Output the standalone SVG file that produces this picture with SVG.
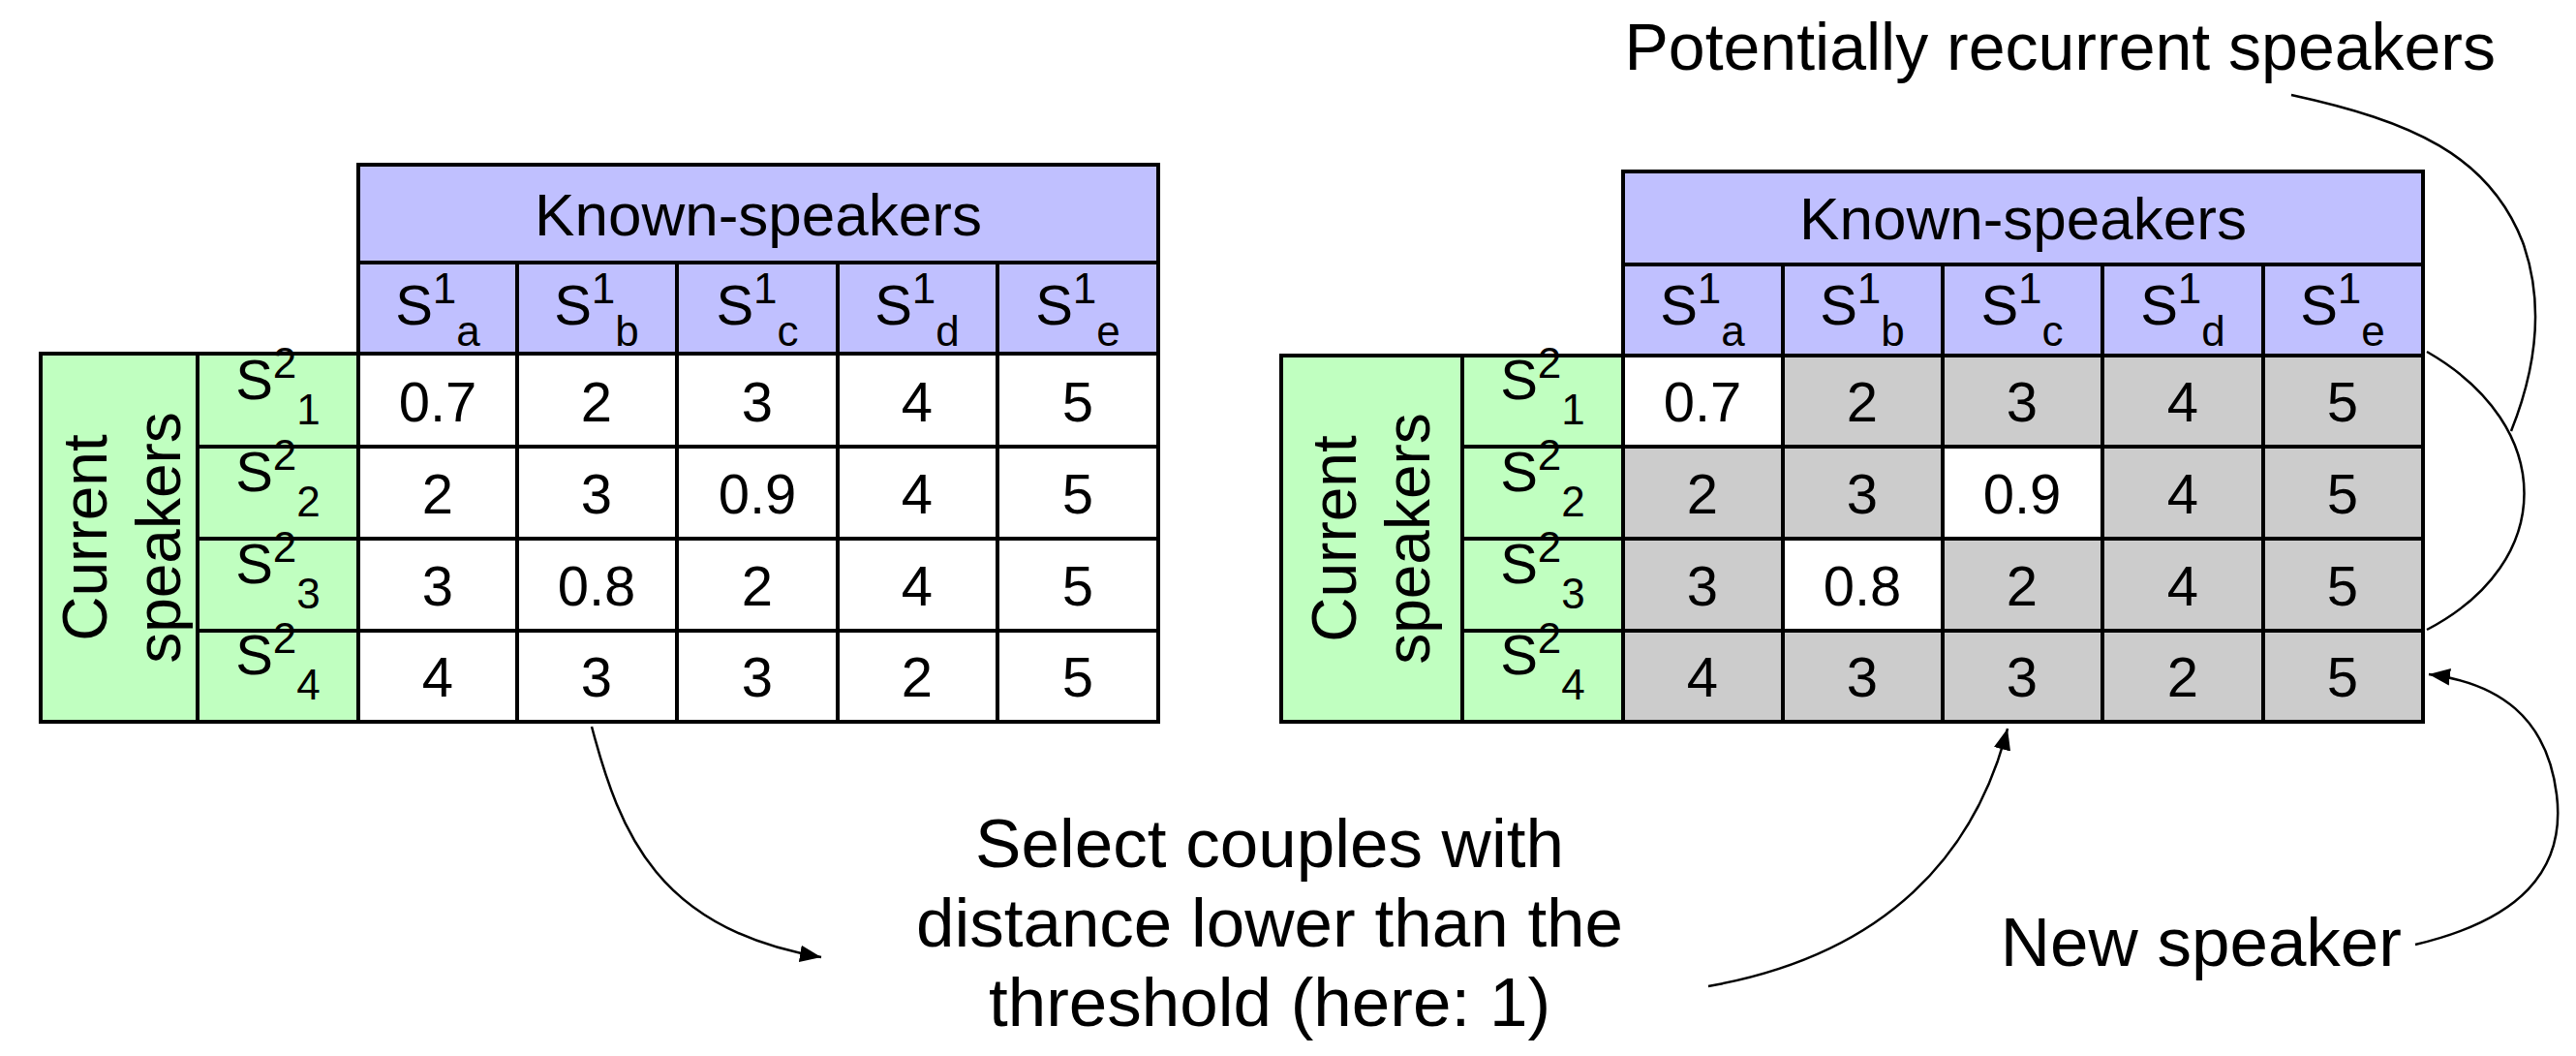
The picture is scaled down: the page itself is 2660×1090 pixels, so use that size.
<svg xmlns="http://www.w3.org/2000/svg" width="2660" height="1090" viewBox="0 0 2660 1090">
<style>
text{font-family:"Liberation Sans",Arial,sans-serif;fill:#000}
.t{font-size:58px;text-anchor:middle}
.h{font-size:62px;text-anchor:middle}
.l{font-size:64px}
.b{font-size:71px}
.s{font-size:44px}
.p{fill:#c0c0ff;stroke:#000;stroke-width:4}
.g{fill:#c0ffc0;stroke:#000;stroke-width:4}
.w{fill:#fff;stroke:#000;stroke-width:4}
.k{fill:#ccc;stroke:#000;stroke-width:4}
.c{fill:none;stroke:#000;stroke-width:2.5}
</style>
<defs>
<marker id="ar" viewBox="0 0 10 10" refX="10" refY="5" markerWidth="22" markerHeight="22" orient="auto" markerUnits="userSpaceOnUse"><path d="M0,1L10,5L0,9z"/></marker></defs>

<g id="left-table">
<rect class="p" x="370" y="170" width="826" height="101"/>
<text class="h" x="783" y="243">Known-speakers</text>
<rect class="p" x="370" y="271" width="164" height="94"/><rect class="p" x="534" y="271" width="165" height="94"/><rect class="p" x="699" y="271" width="166" height="94"/><rect class="p" x="865" y="271" width="165" height="94"/><rect class="p" x="1030" y="271" width="166" height="94"/>
<text class="t" x="452" y="335">S<tspan class="s" dy="-22">1</tspan><tspan class="s" dy="44">a</tspan></text>
<text class="t" x="616" y="335">S<tspan class="s" dy="-22">1</tspan><tspan class="s" dy="44">b</tspan></text>
<text class="t" x="782" y="335">S<tspan class="s" dy="-22">1</tspan><tspan class="s" dy="44">c</tspan></text>
<text class="t" x="947" y="335">S<tspan class="s" dy="-22">1</tspan><tspan class="s" dy="44">d</tspan></text>
<text class="t" x="1113" y="335">S<tspan class="s" dy="-22">1</tspan><tspan class="s" dy="44">e</tspan></text>
<rect class="g" x="42" y="365" width="162" height="380"/>
<text class="l" text-anchor="middle" transform="translate(110,555) rotate(-90)">Current</text>
<text class="l" text-anchor="middle" transform="translate(186,555) rotate(-90)">speakers</text>
<rect class="g" x="204" y="365" width="166" height="96"/><rect class="g" x="204" y="461" width="166" height="95"/><rect class="g" x="204" y="556" width="166" height="95"/><rect class="g" x="204" y="651" width="166" height="94"/>
<text class="t" x="287" y="412">S<tspan class="s" dy="-22">2</tspan><tspan class="s" dy="48">1</tspan></text>
<text class="t" x="287" y="507">S<tspan class="s" dy="-22">2</tspan><tspan class="s" dy="48">2</tspan></text>
<text class="t" x="287" y="602">S<tspan class="s" dy="-22">2</tspan><tspan class="s" dy="48">3</tspan></text>
<text class="t" x="287" y="696">S<tspan class="s" dy="-22">2</tspan><tspan class="s" dy="48">4</tspan></text>
<g>
<rect class="w" x="370" y="365" width="826" height="380"/>
<path d="M534 365V745M699 365V745M865 365V745M1030 365V745M370 461H1196M370 556H1196M370 651H1196" stroke="#000" stroke-width="4"/>
</g>
<text class="t" x="452" y="435">0.7</text><text class="t" x="616" y="435">2</text><text class="t" x="782" y="435">3</text><text class="t" x="947" y="435">4</text><text class="t" x="1113" y="435">5</text>
<text class="t" x="452" y="530">2</text><text class="t" x="616" y="530">3</text><text class="t" x="782" y="530">0.9</text><text class="t" x="947" y="530">4</text><text class="t" x="1113" y="530">5</text>
<text class="t" x="452" y="625">3</text><text class="t" x="616" y="625">0.8</text><text class="t" x="782" y="625">2</text><text class="t" x="947" y="625">4</text><text class="t" x="1113" y="625">5</text>
<text class="t" x="452" y="719">4</text><text class="t" x="616" y="719">3</text><text class="t" x="782" y="719">3</text><text class="t" x="947" y="719">2</text><text class="t" x="1113" y="719">5</text>
</g>

<g id="right-table">
<rect class="p" x="1676" y="177" width="826" height="96"/>
<text class="h" x="2089" y="247">Known-speakers</text>
<rect class="p" x="1676" y="273" width="165" height="94"/><rect class="p" x="1841" y="273" width="165" height="94"/><rect class="p" x="2006" y="273" width="165" height="94"/><rect class="p" x="2171" y="273" width="166" height="94"/><rect class="p" x="2337" y="273" width="165" height="94"/>
<text class="t" x="1758" y="335">S<tspan class="s" dy="-22">1</tspan><tspan class="s" dy="44">a</tspan></text>
<text class="t" x="1923" y="335">S<tspan class="s" dy="-22">1</tspan><tspan class="s" dy="44">b</tspan></text>
<text class="t" x="2088" y="335">S<tspan class="s" dy="-22">1</tspan><tspan class="s" dy="44">c</tspan></text>
<text class="t" x="2254" y="335">S<tspan class="s" dy="-22">1</tspan><tspan class="s" dy="44">d</tspan></text>
<text class="t" x="2419" y="335">S<tspan class="s" dy="-22">1</tspan><tspan class="s" dy="44">e</tspan></text>
<rect class="g" x="1323" y="367" width="187" height="378"/>
<text class="l" text-anchor="middle" transform="translate(1400,556) rotate(-90)">Current</text>
<text class="l" text-anchor="middle" transform="translate(1476,556) rotate(-90)">speakers</text>
<rect class="g" x="1510" y="367" width="166" height="94"/><rect class="g" x="1510" y="461" width="166" height="95"/><rect class="g" x="1510" y="556" width="166" height="95"/><rect class="g" x="1510" y="651" width="166" height="94"/>
<text class="t" x="1593" y="412">S<tspan class="s" dy="-22">2</tspan><tspan class="s" dy="48">1</tspan></text>
<text class="t" x="1593" y="507">S<tspan class="s" dy="-22">2</tspan><tspan class="s" dy="48">2</tspan></text>
<text class="t" x="1593" y="602">S<tspan class="s" dy="-22">2</tspan><tspan class="s" dy="48">3</tspan></text>
<text class="t" x="1593" y="696">S<tspan class="s" dy="-22">2</tspan><tspan class="s" dy="48">4</tspan></text>
<rect class="k" x="1676" y="367" width="826" height="378"/>
<rect fill="#fff" x="1676" y="367" width="165" height="94"/>
<rect fill="#fff" x="2006" y="461" width="165" height="95"/>
<rect fill="#fff" x="1841" y="556" width="165" height="95"/>
<path d="M1676 367H2502V745H1676ZM1841 367V745M2006 367V745M2171 367V745M2337 367V745M1676 461H2502M1676 556H2502M1676 651H2502" fill="none" stroke="#000" stroke-width="4"/>
<text class="t" x="1758" y="435">0.7</text><text class="t" x="1923" y="435">2</text><text class="t" x="2088" y="435">3</text><text class="t" x="2254" y="435">4</text><text class="t" x="2419" y="435">5</text>
<text class="t" x="1758" y="530">2</text><text class="t" x="1923" y="530">3</text><text class="t" x="2088" y="530">0.9</text><text class="t" x="2254" y="530">4</text><text class="t" x="2419" y="530">5</text>
<text class="t" x="1758" y="625">3</text><text class="t" x="1923" y="625">0.8</text><text class="t" x="2088" y="625">2</text><text class="t" x="2254" y="625">4</text><text class="t" x="2419" y="625">5</text>
<text class="t" x="1758" y="719">4</text><text class="t" x="1923" y="719">3</text><text class="t" x="2088" y="719">3</text><text class="t" x="2254" y="719">2</text><text class="t" x="2419" y="719">5</text>
</g>

<g id="label-recurrent"><text class="l" style="font-size:68px" x="2577" y="72" text-anchor="end">Potentially recurrent speakers</text></g>
<g id="label-select">
<text class="b" x="1311" y="895" text-anchor="middle">Select couples with</text>
<text class="b" x="1311" y="977" text-anchor="middle">distance lower than the</text>
<text class="b" x="1311" y="1059" text-anchor="middle">threshold (here: 1)</text>
</g>
<g id="label-new"><text class="b" x="2480" y="997" text-anchor="end">New speaker</text></g>

<g id="connectors">
<path class="c" marker-end="url(#ar)" d="M611 750C640 860 680 960 848 988"/>
<path class="c" marker-end="url(#ar)" d="M1764 1018C1950 985 2040 880 2073 752"/>
<path class="c" marker-end="url(#ar)" d="M2494 975C2600 950 2650 900 2640 820C2630 740 2580 705 2508 696"/>
<path class="c" d="M2506 363C2640 440 2640 580 2506 650"/>
<path class="c" d="M2366 98C2490 125 2570 160 2605 250C2630 320 2615 390 2593 445"/>
</g>
</svg>
